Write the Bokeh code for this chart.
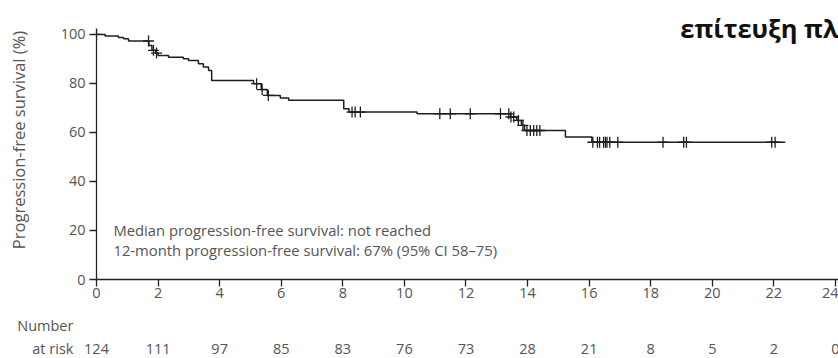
import numpy as np
from bokeh.plotting import figure
from bokeh.models import Range1d, FixedTicker
from bokeh.core.properties import value
from bokeh.embed import file_html
from bokeh.resources import INLINE

# ---- data ----
km_time = [0, 0.28, 0.71, 0.88, 1.04, 1.70, 1.80, 1.92, 2.00, 2.34, 2.82, 2.99,
           3.31, 3.47, 3.64, 3.74, 5.10, 5.35, 5.55, 5.97, 6.24, 8.03, 8.20,
           10.41, 13.45, 13.65, 13.80, 13.90, 15.23, 16.09, 22.37]
km_surv = [100, 99.3, 98.7, 98.2, 97.3, 95.5, 93.5, 92.4, 91.4, 90.7, 90.1, 89.4,
           88.0, 86.7, 85.3, 81.2, 79.9, 77.5, 75.1, 74.1, 73.1, 69.7, 68.3,
           67.6, 66.3, 64.9, 62.9, 60.8, 58.1, 56.0, 56.0]
censor_time = [0.0, 1.69, 1.85, 1.95, 5.20, 5.38, 5.58, 8.30, 8.40, 8.57, 11.15,
               11.49, 12.14, 13.12, 13.39, 13.46, 13.55, 13.70, 13.85, 13.98,
               14.09, 14.20, 14.30, 14.40, 16.12, 16.27, 16.34, 16.47, 16.53,
               16.58, 16.67, 16.93, 18.40, 19.07, 19.16, 21.93, 22.04]
risk_months = [0, 2, 4, 6, 8, 10, 12, 14, 16, 18, 20, 22, 24]
risk_n = [124, 111, 97, 85, 83, 76, 73, 28, 21, 8, 5, 2, 0]
x_ticks = [0, 2, 4, 6, 8, 10, 12, 14, 16, 18, 20, 22, 24]
y_ticks = [0, 20, 40, 60, 80, 100]
notes = ["Median progression-free survival: not reached",
         "12-month progression-free survival: 67% (95% CI 58\u201375)"]
risk_row_labels = ["Number", "at risk"]
title_text = "\u03b5\u03c0\u03af\u03c4\u03b5\u03c5\u03be\u03b7 \u03c0\u03bb"

# censored points lie on the step curve
idx = np.searchsorted(np.array(km_time), np.array(censor_time), side="right") - 1
censor_surv = [km_surv[i] for i in idx]

FONT = "Open Sans"
GRAY = "#555555"
PX_PER_MONTH = 30.79
PX_PER_PCT = 2.451
LEFT = 96
FRAME_W = 838 - LEFT
FRAME_H = 279

p = figure(width=838, height=310, output_backend="svg", toolbar_location=None,
           x_range=Range1d(0, FRAME_W / PX_PER_MONTH),
           y_range=Range1d(0, FRAME_H / PX_PER_PCT),
           min_border_left=LEFT, min_border_right=0, min_border_top=0,
           min_border_bottom=31)
p.outline_line_color = None
p.grid.visible = False

p.step(km_time, km_surv, mode="after", line_color="#1e1e1e", line_width=1.5)
p.scatter(censor_time, censor_surv, marker="cross", size=11,
          line_color="#1e1e1e", line_width=1.3)

for ax in (p.xaxis[0], p.yaxis[0]):
    ax.axis_line_color = "#222222"
    ax.axis_line_width = 1.3
    ax.major_tick_line_color = "#222222"
    ax.major_tick_line_width = 1.3
    ax.major_tick_in = 0
    ax.major_tick_out = 7
    ax.minor_tick_line_color = None
    ax.major_label_text_font = FONT
    ax.major_label_text_font_size = "14.5px"
    ax.major_label_text_color = GRAY

p.xaxis.ticker = FixedTicker(ticks=x_ticks)
p.yaxis.ticker = FixedTicker(ticks=y_ticks)
p.yaxis.bounds = (0, 102.4)
p.xaxis.major_label_standoff = 1
p.yaxis.major_label_standoff = 4
p.yaxis.axis_label = "Progression-free survival (%)"
p.yaxis.axis_label_text_font = FONT
p.yaxis.axis_label_text_font_style = "normal"
p.yaxis.axis_label_text_font_size = "16.5px"
p.yaxis.axis_label_text_color = GRAY
p.yaxis.axis_label_standoff = 28

# annotation notes inside the plot
p.text(x=[0.55, 0.55], y=[20.0, 12.2], text=notes,
       text_font=value(FONT), text_font_size="14.8px", text_color=GRAY,
       text_baseline="middle")

# title fragment (cut off at right edge)
p.text(x=[18.96], y=[102.8], text=[title_text],
       text_font=value(FONT), text_font_size="25.5px", text_font_style="bold",
       text_color="#111111", text_baseline="alphabetic")

# number at risk strip: its own root below the plot, same horizontal scale
r = figure(width=838, height=48, output_backend="svg", toolbar_location=None,
           x_range=Range1d(-LEFT / PX_PER_MONTH, FRAME_W / PX_PER_MONTH),
           y_range=Range1d(0, 48), x_axis_type=None, y_axis_type=None,
           min_border_left=0, min_border_right=0, min_border_top=0,
           min_border_bottom=0)
r.outline_line_color = None
r.grid.visible = False
r.text(x=risk_months, y=[10] * len(risk_months), text=[str(n) for n in risk_n],
       text_align="center", text_baseline="middle", text_font=value(FONT),
       text_font_size="14.5px", text_color=GRAY)
r.text(x=[-0.75, -0.75], y=[33, 10], text=risk_row_labels,
       text_align="right", text_baseline="middle", text_font=value(FONT),
       text_font_size="14.5px", text_color=GRAY)

open("out.html", "w").write(file_html([p, r], INLINE))
